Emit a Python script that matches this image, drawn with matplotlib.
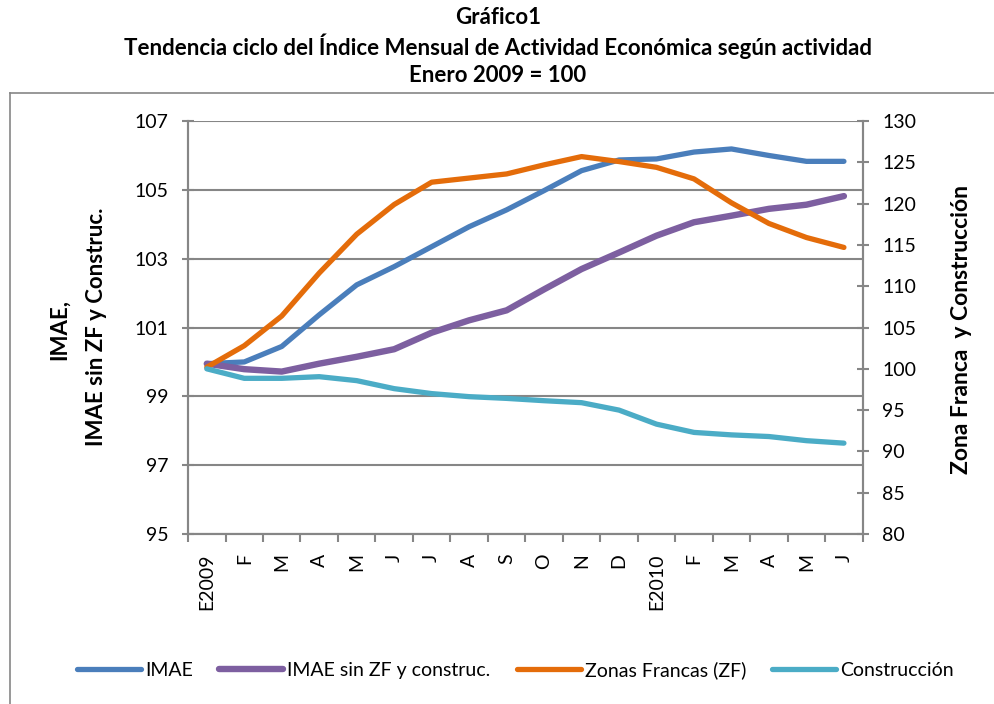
import matplotlib.pyplot as plt
import numpy as np
from matplotlib.lines import Line2D

plt.rcParams["font.family"] = ["Lato", "DejaVu Sans"]

MONTHS = ["E2009", "F", "M", "A", "M", "J", "J", "A", "S", "O", "N", "D",
          "E2010", "F", "M", "A", "M", "J"]

# left axis series
IMAE = [99.95, 100.0, 100.45, 101.37, 102.24, 102.77, 103.35, 103.93, 104.42,
        104.98, 105.56, 105.87, 105.90, 106.10, 106.19, 106.0, 105.83, 105.83]
IMAE_SIN = [99.95, 99.79, 99.72, 99.95, 100.15, 100.37, 100.85, 101.21, 101.50,
            102.11, 102.70, 103.18, 103.67, 104.06, 104.25, 104.45, 104.57, 104.82]
# right axis series
ZF = [100.2, 102.8, 106.4, 111.6, 116.3, 119.9, 122.6, 123.1, 123.6,
      124.7, 125.7, 125.1, 124.4, 123.0, 120.1, 117.6, 115.9, 114.7]
CONSTR = [100.0, 98.85, 98.85, 99.05, 98.57, 97.6, 97.0, 96.63, 96.42,
          96.14, 95.9, 95.0, 93.3, 92.3, 92.0, 91.8, 91.3, 91.0]

TITLE = ["Gráfico1",
         "Tendencia ciclo del Índice Mensual de Actividad Económica según actividad",
         "Enero 2009 = 100"]

C_BLUE = "#4a7ebb"
C_PURPLE = "#7d5fa0"
C_ORANGE = "#e46c0a"
C_CYAN = "#4bacc6"
GRAY = "#868686"

W, H = 995, 704
fig = plt.figure(figsize=(W / 100, H / 100), dpi=100)
ax = fig.add_axes([0.189, 0.2415, 0.678, 0.5865])
ax2 = ax.twinx()


def px(xp, yp):
    return xp / W, 1 - yp / H


x = np.arange(len(MONTHS))
lw = 3.8
ax.plot(x, IMAE, color=C_BLUE, lw=lw, solid_capstyle="round", label="IMAE", zorder=3)
ax.plot(x, IMAE_SIN, color=C_PURPLE, lw=lw + 0.8, solid_capstyle="round",
        label="IMAE sin ZF y construc.", zorder=3)
ax2.plot(x, ZF, color=C_ORANGE, lw=lw, solid_capstyle="round", label="Zonas Francas (ZF)")
ax2.plot(x, CONSTR, color=C_CYAN, lw=lw, solid_capstyle="round", label="Construcción")

ax.set_xlim(-0.5, len(MONTHS) - 0.5)
ax.set_ylim(95, 107)
ax.set_yticks(np.arange(95, 108, 2))
ax2.set_ylim(80, 130)
ax2.set_yticks(np.arange(80, 131, 5))

ax.set_xticks(x)
ax.set_xticklabels(MONTHS, rotation=90, fontsize=14)
ax.set_xticks(np.arange(-0.5, len(MONTHS), 1), minor=True)
ax.tick_params(axis="x", which="major", length=0, pad=14)
ax.tick_params(axis="x", which="minor", length=6, width=1.5, color=GRAY, direction="out")
ax.tick_params(axis="y", length=8, width=1.5, color=GRAY, direction="inout", labelsize=14, pad=10)
ax2.tick_params(axis="y", length=8, width=1.5, color=GRAY, direction="inout", labelsize=14, pad=10)

ax.grid(axis="y", color=GRAY, lw=1.5)
ax.set_axisbelow(True)
for a in (ax, ax2):
    a.spines["top"].set_visible(False)
    for s in ("left", "right", "bottom"):
        a.spines[s].set_color(GRAY)
        a.spines[s].set_linewidth(1.5)

# axis titles
fig.text(*px(59, 329), "IMAE,", rotation=90, fontsize=16, fontweight="bold",
         ha="center", va="center")
fig.text(*px(97, 327), "IMAE sin ZF y Construc.", rotation=90, fontsize=16,
         fontweight="bold", ha="center", va="center")
fig.text(*px(962, 330), "Zona Franca  y Construcción", rotation=90, fontsize=16.5,
         fontweight="bold", ha="center", va="center")

# chart title
for yp, line in zip([17, 46, 75], TITLE):
    fig.text(*px(498, yp), line, fontsize=16, fontweight="bold", ha="center", va="center")

# outer chart frame (left and top edges visible)
fig.add_artist(Line2D([0.0105, 0.0105], [0.0, 0.868], color=GRAY, lw=1.2, transform=fig.transFigure))
fig.add_artist(Line2D([0.0105, 1.0], [0.868, 0.868], color=GRAY, lw=1.2, transform=fig.transFigure))

h1, l1 = ax.get_legend_handles_labels()
h2, l2 = ax2.get_legend_handles_labels()
fig.legend(h1 + h2, l1 + l2, loc="center", bbox_to_anchor=(0.518, 0.048), ncol=4,
           frameon=False, fontsize=14, handlelength=3.3, handletextpad=0.2, columnspacing=1.35)

fig.savefig("out.png", dpi=100)
